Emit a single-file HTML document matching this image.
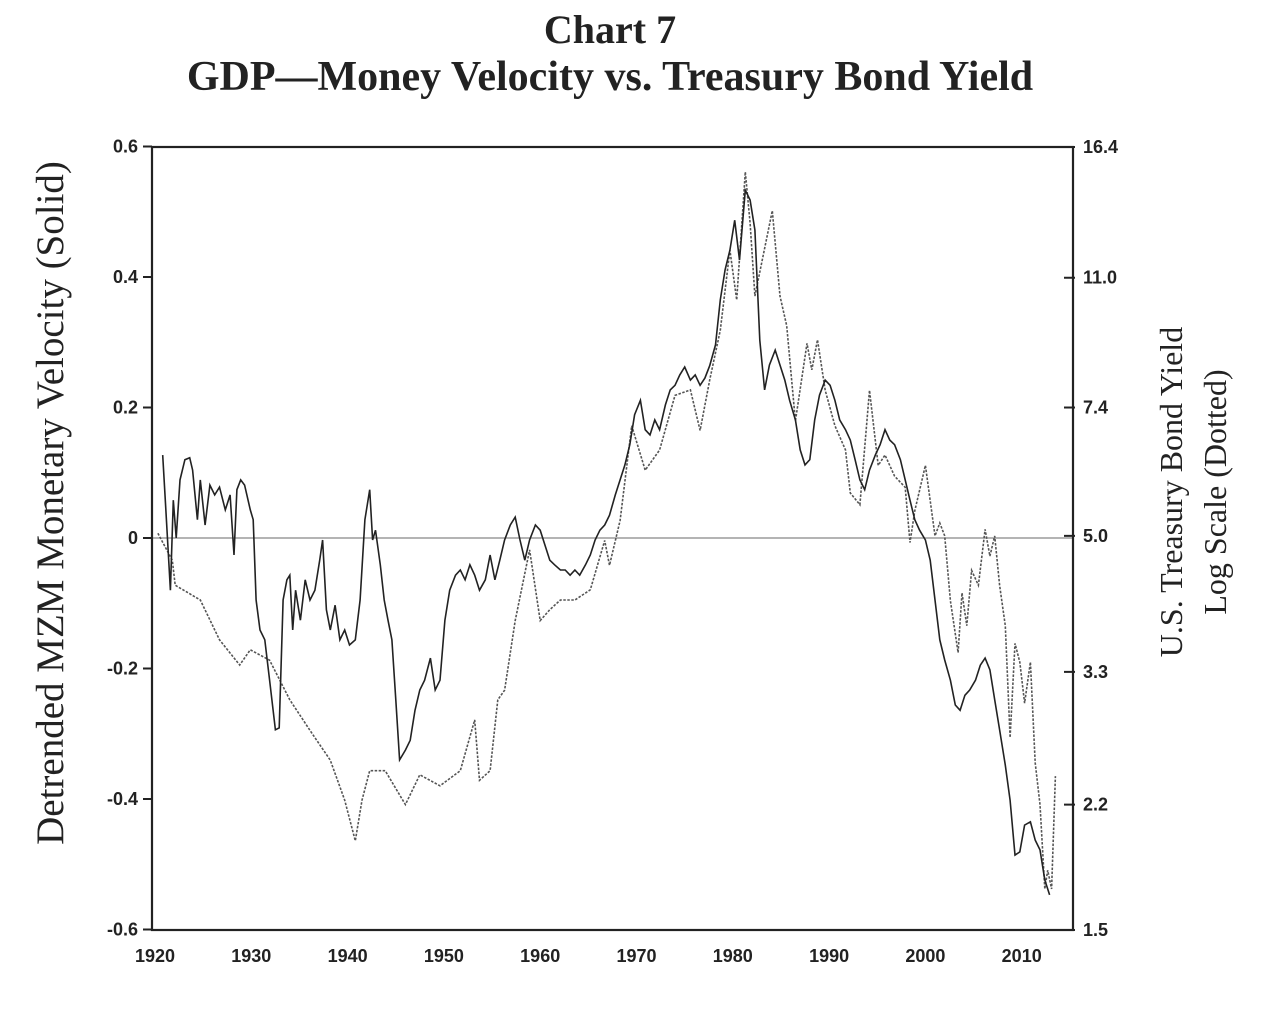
<!DOCTYPE html>
<html><head><meta charset="utf-8"><style>
body{margin:0;background:#fff;width:1268px;height:1006px;overflow:hidden}
svg text{font-family:"Liberation Sans",sans-serif}
</style></head><body>
<svg id="c" width="1268" height="1006">
<text x="610" y="43" text-anchor="middle" style="font-family:'Liberation Serif',serif;font-weight:bold;font-size:40px" fill="#222">Chart 7</text>
<text x="610" y="90" text-anchor="middle" style="font-family:'Liberation Serif',serif;font-weight:bold;font-size:42px" fill="#222">GDP—Money Velocity vs. Treasury Bond Yield</text>
<text transform="translate(63,503) rotate(-90)" text-anchor="middle" style="font-family:'Liberation Serif',serif;font-size:39px" fill="#222">Detrended MZM Monetary Velocity (Solid)</text>
<text transform="translate(1182,492) rotate(-90)" text-anchor="middle" style="font-family:'Liberation Serif',serif;font-size:32px" fill="#222">U.S. Treasury Bond Yield</text>
<text transform="translate(1226,492) rotate(-90)" text-anchor="middle" style="font-family:'Liberation Serif',serif;font-size:32px" fill="#222">Log Scale (Dotted)</text>
<g id="g"></g>
</svg>
<script>
const leftTicks=[0.6,0.4,0.2,0,-0.2,-0.4,-0.6];
const leftTickLabels=["0.6","0.4","0.2","0","-0.2","-0.4","-0.6"];
const rightTicks=[16.4,11.0,7.4,5.0,3.3,2.2,1.5];
const rightTickLabels=["16.4","11.0","7.4","5.0","3.3","2.2","1.5"];
const xTicks=[1920,1930,1940,1950,1960,1970,1980,1990,2000,2010];
const velYears=[1920.8,1921.1,1921.6,1921.9,1922.2,1922.6,1923.1,1923.6,1923.9,1924.4,1924.7,1925.2,1925.7,1926.2,1926.7,1927.3,1927.8,1928.2,1928.5,1928.9,1929.3,1929.9,1930.2,1930.5,1930.9,1931.4,1931.9,1932.5,1932.9,1933.3,1933.7,1934.0,1934.3,1934.6,1935.1,1935.6,1936.1,1936.6,1937.1,1937.4,1937.8,1938.2,1938.7,1939.2,1939.7,1940.2,1940.8,1941.3,1941.8,1942.3,1942.6,1942.9,1943.4,1943.8,1944.2,1944.6,1945.0,1945.4,1946.0,1946.5,1947.0,1947.5,1948.0,1948.6,1949.1,1949.6,1950.1,1950.6,1951.2,1951.7,1952.2,1952.7,1953.2,1953.7,1954.3,1954.8,1955.3,1955.8,1956.3,1956.9,1957.4,1957.9,1958.4,1958.9,1959.5,1960.0,1960.5,1961.0,1961.5,1962.1,1962.6,1963.1,1963.6,1964.1,1964.7,1965.2,1965.7,1966.2,1966.7,1967.2,1967.8,1968.3,1968.8,1969.3,1969.8,1970.4,1970.9,1971.4,1971.9,1972.4,1973.0,1973.5,1974.0,1974.5,1975.0,1975.6,1976.1,1976.6,1977.1,1977.6,1978.2,1978.7,1979.2,1979.7,1980.2,1980.7,1981.3,1981.8,1982.3,1982.8,1983.3,1983.8,1984.4,1984.9,1985.4,1985.9,1986.5,1987.0,1987.5,1988.0,1988.5,1989.0,1989.6,1990.1,1990.6,1991.1,1991.7,1992.2,1992.7,1993.2,1993.7,1994.2,1994.8,1995.3,1995.8,1996.3,1996.8,1997.4,1997.9,1998.4,1998.9,1999.4,2000.0,2000.5,2001.0,2001.5,2002.0,2002.6,2003.1,2003.6,2004.1,2004.6,2005.2,2005.7,2006.2,2006.7,2007.2,2007.7,2008.3,2008.8,2009.3,2009.8,2010.3,2010.9,2011.4,2011.9,2012.4,2012.9];
const velValues=[0.127,0.05,-0.08,0.058,0.0,0.089,0.12,0.123,0.104,0.028,0.089,0.02,0.081,0.066,0.078,0.043,0.066,-0.026,0.074,0.089,0.081,0.043,0.028,-0.095,-0.141,-0.156,-0.218,-0.294,-0.291,-0.095,-0.064,-0.057,-0.141,-0.08,-0.126,-0.064,-0.095,-0.08,-0.034,-0.003,-0.11,-0.141,-0.103,-0.156,-0.141,-0.164,-0.156,-0.095,0.028,0.074,-0.003,0.012,-0.041,-0.095,-0.126,-0.156,-0.248,-0.34,-0.325,-0.31,-0.264,-0.233,-0.218,-0.184,-0.233,-0.218,-0.126,-0.08,-0.057,-0.049,-0.064,-0.041,-0.057,-0.08,-0.064,-0.026,-0.064,-0.034,-0.003,0.02,0.032,-0.003,-0.034,-0.003,0.02,0.012,-0.011,-0.034,-0.041,-0.049,-0.049,-0.057,-0.049,-0.057,-0.041,-0.026,-0.003,0.012,0.02,0.035,0.066,0.089,0.112,0.143,0.189,0.211,0.166,0.158,0.181,0.166,0.204,0.227,0.234,0.25,0.262,0.242,0.25,0.234,0.245,0.264,0.296,0.365,0.411,0.441,0.487,0.426,0.533,0.518,0.472,0.303,0.227,0.265,0.288,0.265,0.242,0.211,0.181,0.135,0.112,0.12,0.181,0.219,0.242,0.234,0.211,0.181,0.166,0.15,0.12,0.089,0.074,0.104,0.127,0.143,0.166,0.15,0.143,0.12,0.089,0.058,0.028,0.012,-0.003,-0.034,-0.095,-0.156,-0.187,-0.218,-0.256,-0.264,-0.241,-0.233,-0.218,-0.195,-0.184,-0.202,-0.248,-0.294,-0.348,-0.402,-0.486,-0.481,-0.44,-0.435,-0.463,-0.478,-0.524,-0.547];
const yldYears=[1920.3,1921.8,1922.1,1924.7,1926.7,1928.8,1929.9,1931.9,1934.0,1936.1,1938.2,1939.7,1940.8,1941.5,1942.3,1943.9,1946.0,1947.5,1949.6,1951.7,1953.2,1953.7,1954.8,1955.6,1956.3,1957.4,1958.9,1960.0,1961.0,1962.1,1963.6,1965.2,1966.7,1967.2,1968.3,1969.5,1970.9,1972.4,1974.0,1975.6,1976.6,1977.6,1978.7,1979.7,1980.4,1981.3,1981.8,1982.3,1984.1,1984.9,1985.6,1986.5,1987.7,1988.2,1988.8,1989.6,1990.6,1991.7,1992.2,1993.2,1994.2,1995.1,1995.8,1996.8,1997.9,1998.4,1998.9,2000.0,2001.0,2001.5,2002.0,2002.6,2003.4,2003.8,2004.3,2004.8,2005.5,2006.2,2006.7,2007.2,2007.7,2008.3,2008.8,2009.3,2009.8,2010.3,2010.9,2011.4,2011.9,2012.4,2012.7,2013.1,2013.5];
const yldValues=[5.04,4.64,4.30,4.11,3.64,3.37,3.53,3.42,3.03,2.76,2.52,2.23,1.97,2.23,2.44,2.44,2.20,2.41,2.33,2.44,2.85,2.37,2.44,3.03,3.12,3.86,4.79,3.86,3.99,4.11,4.11,4.24,4.93,4.57,5.24,7.0,6.11,6.50,7.68,7.81,6.90,8.05,9.37,11.97,10.28,15.2,13.0,10.4,13.5,10.4,9.5,7.1,9.0,8.3,9.1,7.8,7.0,6.5,5.7,5.5,7.8,6.2,6.4,6.0,5.8,4.9,5.4,6.2,5.0,5.2,5.0,4.1,3.5,4.2,3.8,4.5,4.3,5.1,4.7,5.0,4.3,3.8,2.7,3.6,3.4,3.0,3.4,2.5,2.2,1.7,1.8,1.7,2.4];

const L=152,R=1073,T=147,B=930;
const x=yr=>155+(yr-1920)*9.63;
const yl=v=>538-v*652.5;
const yr=v=>T+(Math.log(16.4)-Math.log(v))/(Math.log(16.4)-Math.log(1.5))*(B-T);
const NS='http://www.w3.org/2000/svg',g=document.getElementById('g');
function mk(t,a){const e=document.createElementNS(NS,t);for(const k in a)e.setAttribute(k,a[k]);g.appendChild(e);return e;}
let e;
e=mk('line',{x1:L,y1:yl(0),x2:R,y2:yl(0),stroke:'#888','stroke-width':1.3});


e=mk('rect',{x:L,y:T,width:R-L,height:B-T,fill:'none',stroke:'#222','stroke-width':2.2});


leftTicks.forEach((v,i)=>{
 e=mk('line',{x1:L-9,y1:yl(v),x2:L,y2:yl(v),stroke:'#222','stroke-width':2});
 
 
 e=mk('text',{x:L-14,y:yl(v)+6,'text-anchor':'end','font-size':18,'font-weight':'bold',fill:'#222'});
 e.textContent=leftTickLabels[i];
 
 
});
rightTicks.forEach((v,i)=>{
 e=mk('line',{x1:R-9,y1:yr(v),x2:R+2,y2:yr(v),stroke:'#222','stroke-width':2});
 
 
 e=mk('text',{x:R+10,y:yr(v)+6,'text-anchor':'start','font-size':18,'font-weight':'bold',fill:'#222'});
 e.textContent=rightTickLabels[i];
 
 
});
xTicks.forEach(t=>{
 e=mk('text',{x:x(t),y:B+32,'text-anchor':'middle','font-size':18,'font-weight':'bold',fill:'#222'});
 e.textContent=String(t);
 
 
});
e=mk('path',{d:yldYears.map((t,i)=>(i?'L':'M')+x(t).toFixed(1)+','+yr(yldValues[i]).toFixed(1)).join(''),fill:'none',stroke:'#555','stroke-width':1.6,'stroke-dasharray':'2.5,1.5'});


e=mk('path',{d:velYears.map((t,i)=>(i?'L':'M')+x(t).toFixed(1)+','+yl(velValues[i]).toFixed(1)).join(''),fill:'none',stroke:'#222','stroke-width':1.6});


</script>
</body></html>
